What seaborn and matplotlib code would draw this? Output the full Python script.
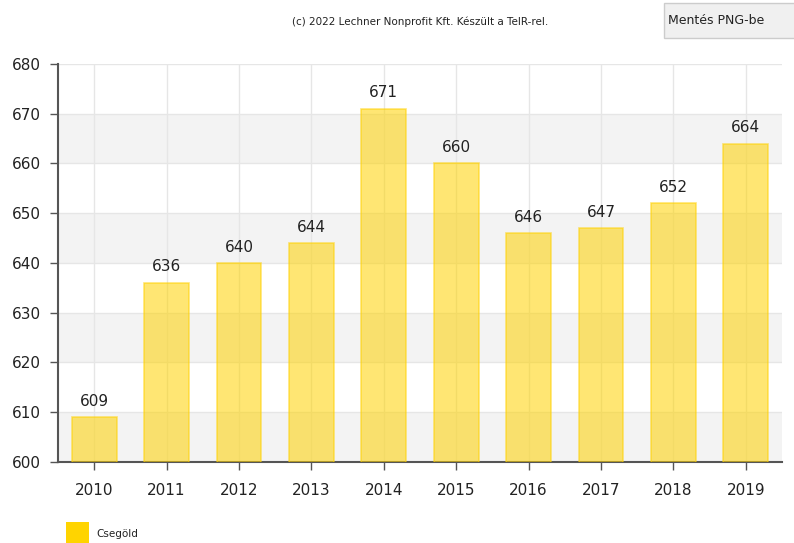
import matplotlib
matplotlib.use("Agg")
import matplotlib.pyplot as plt
from matplotlib.patches import Rectangle
import seaborn as sns
import pandas as pd

years = ["2010", "2011", "2012", "2013", "2014", "2015", "2016", "2017", "2018", "2019"]
values = [609, 636, 640, 644, 671, 660, 646, 647, 652, 664]
series_name = "Csegöld"
yticks = [600, 610, 620, 630, 640, 650, 660, 670, 680]

sns.set_theme(style="white")
plt.rcParams['font.family'] = ['DejaVu Sans']

df = pd.DataFrame({"year": years, "value": values})

fig = plt.figure(figsize=(7.94, 5.43), dpi=100)
ax = fig.add_axes([58/794, 1-462/543, (782-58)/794, (462-64)/543])

# alternating bands
for i in range(len(yticks)-1):
    if i % 2 == 0:
        ax.axhspan(yticks[i], yticks[i+1], color="#f3f3f3", zorder=0, lw=0)

sns.barplot(data=df, x="year", y="value", ax=ax, color="#ffd200", alpha=0.55,
            saturation=1, width=0.62, edgecolor="#ffd000", linewidth=1.2, zorder=3)
for p in ax.patches:
    if hasattr(p, "get_height") and p.get_width() < 1:
        p.set_edgecolor((1.0, 0.82, 0.0, 0.9))

ax.set_ylim(600, 680)
ax.set_xlim(-0.5, len(years)-0.5)
ax.set_yticks(yticks)
ax.set_xlabel("")
ax.set_ylabel("")
ax.grid(True, axis="both", color="#e6e6e6", lw=1, zorder=1)
ax.set_axisbelow(True)
for s in ["top", "right"]:
    ax.spines[s].set_visible(False)
ax.spines["left"].set_color("#555555")
ax.spines["bottom"].set_color("#555555")
ax.spines["left"].set_linewidth(1.5)
ax.spines["bottom"].set_linewidth(1.5)
ax.tick_params(axis="y", left=True, length=6, width=1, color="#555555",
               labelsize=11, labelcolor="#222222", pad=6)
ax.tick_params(axis="x", bottom=True, length=6, width=1, color="#555555",
               labelsize=11, labelcolor="#222222", pad=9)

for i, v in enumerate(values):
    ax.text(i, v + 1.7, str(v), ha="center", va="bottom", fontsize=11, color="#222222", zorder=5)

fig.text(420/794, 1-22/543, "(c) 2022 Lechner Nonprofit Kft. Készült a TeIR-rel.",
         ha="center", va="center", fontsize=7.5, color="#222222")

# button
btn = Rectangle((664/794, 1-38/543), 135/794, 35/543, transform=fig.transFigure,
                facecolor="#f0f0f0", edgecolor="#cccccc", lw=1)
fig.patches.append(btn)
fig.text(668/794, 1-20/543, "Mentés PNG-be", ha="left", va="center",
         fontsize=9, color="#222222")

# legend
leg = Rectangle((66/794, 0), 23/794, 21/543, transform=fig.transFigure,
                facecolor="#ffd400", edgecolor="none")
fig.patches.append(leg)
fig.text(96/794, 1-534/543, series_name, ha="left", va="center", fontsize=7.5, color="#222222")

fig.savefig("out.png", dpi=100)
